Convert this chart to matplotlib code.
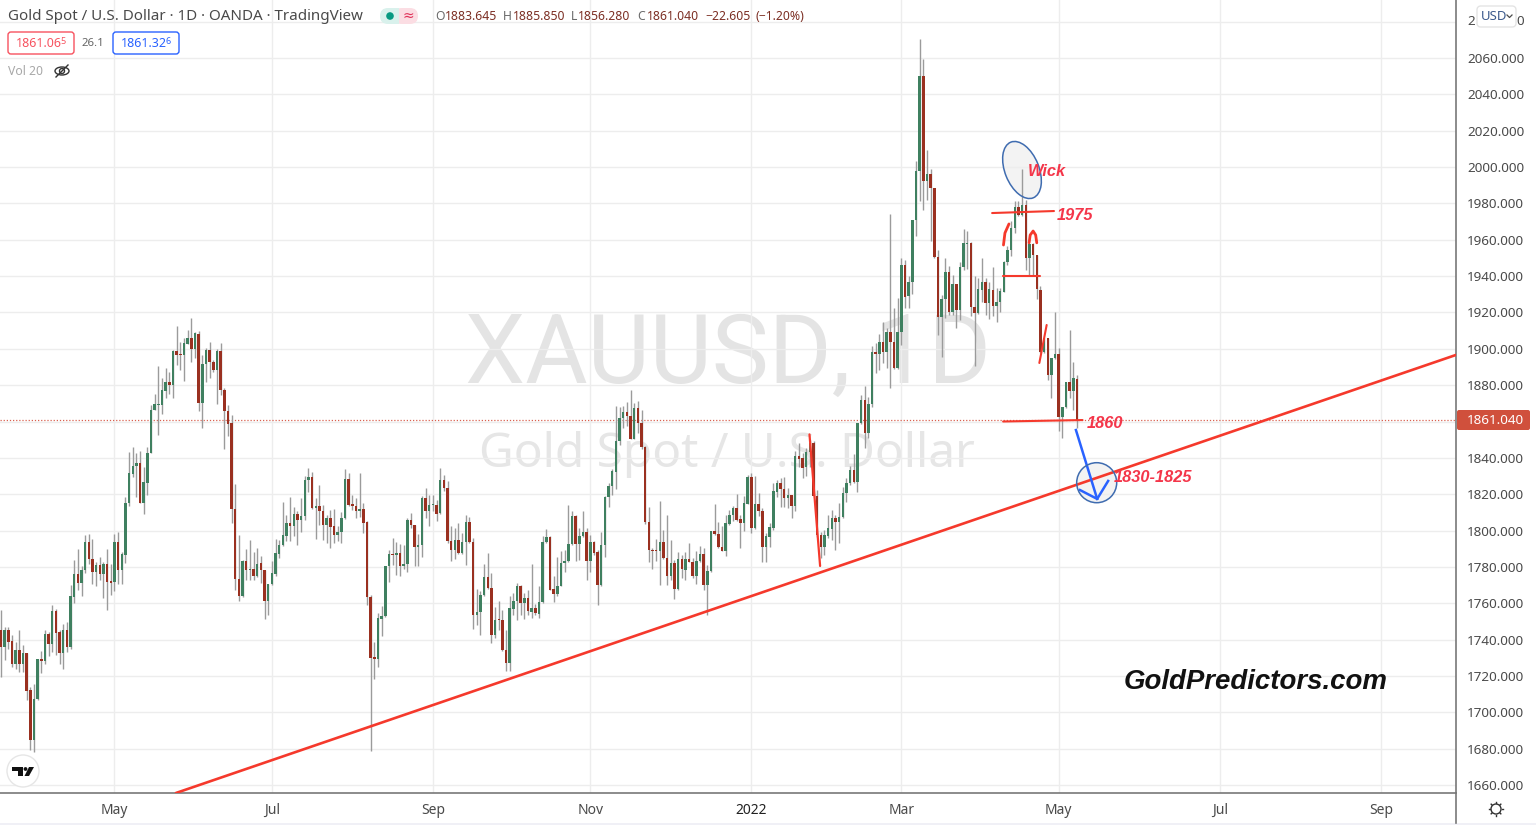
#!/usr/bin/env python3
"""Gold Spot / U.S. Dollar daily candles with hand-drawn levels, TradingView look."""
import matplotlib
matplotlib.use("Agg")
import matplotlib.pyplot as plt
from matplotlib.patches import Circle, Ellipse, FancyBboxPatch, Polygon, Rectangle

W, H = 1536, 825
FONT = "Noto Sans"
plt.rcParams["font.family"] = [FONT, "DejaVu Sans"]

opens = [
    1745.1, 1736.0, 1745.1, 1739.1, 1726.8, 1734.1, 1726.4, 1732.8, 1712.1, 1684.6,
    1707.2, 1729.5, 1728.2, 1743.3, 1737.4, 1755.8, 1744.0, 1732.7, 1745.5, 1736.0,
    1763.5, 1776.3, 1771.2, 1778.2, 1793.6, 1784.6, 1777.2, 1781.3, 1776.0, 1781.8,
    1772.1, 1771.7, 1793.8, 1778.2, 1786.8, 1815.2, 1831.0, 1835.4, 1837.3, 1815.4,
    1826.4, 1842.8, 1866.6, 1869.0, 1869.0, 1876.9, 1881.5, 1880.2, 1898.9, 1896.9,
    1896.5, 1902.9, 1906.2, 1899.8, 1908.1, 1870.3, 1891.6, 1899.3, 1892.8, 1888.6,
    1898.7, 1877.6, 1865.9, 1858.9, 1812.1, 1773.2, 1764.0, 1783.1, 1778.5, 1779.1,
    1774.9, 1782.2, 1778.5, 1761.1, 1770.6, 1776.3, 1787.3, 1791.9, 1797.2, 1804.2,
    1802.4, 1809.0, 1806.0, 1807.9, 1827.7, 1829.5, 1812.3, 1813.4, 1811.0, 1803.3,
    1807.0, 1802.4, 1797.6, 1799.1, 1807.0, 1828.4, 1814.7, 1813.7, 1810.6, 1811.9,
    1804.6, 1763.5, 1730.2, 1729.5, 1751.5, 1752.8, 1780.3, 1787.3, 1786.4, 1787.7,
    1780.3, 1781.6, 1805.8, 1802.9, 1790.8, 1792.3, 1817.8, 1810.6, 1813.9, 1814.1,
    1809.7, 1828.0, 1823.5, 1794.1, 1789.5, 1794.7, 1787.7, 1793.7, 1804.6, 1793.7,
    1753.7, 1755.2, 1764.4, 1774.5, 1768.4, 1742.4, 1751.0, 1750.6, 1734.5, 1727.1,
    1757.0, 1761.1, 1769.7, 1760.2, 1763.1, 1755.2, 1757.4, 1754.3, 1760.5, 1793.6,
    1796.3, 1767.9, 1765.1, 1769.7, 1782.2, 1783.1, 1792.5, 1808.2, 1792.8, 1796.9,
    1799.4, 1783.5, 1793.6, 1788.2, 1769.9, 1791.9, 1818.5, 1824.4, 1832.1, 1849.2,
    1862.0, 1865.3, 1862.9, 1850.4, 1867.7, 1859.2, 1845.8, 1804.7, 1789.5, 1789.0,
    1788.6, 1793.6, 1784.9, 1774.8, 1782.2, 1768.0, 1784.4, 1778.5, 1784.4, 1782.9,
    1775.2, 1783.1, 1787.1, 1770.2, 1777.6, 1800.0, 1798.3, 1790.8, 1789.0, 1803.8,
    1808.8, 1812.6, 1806.4, 1804.2, 1814.8, 1829.3, 1801.4, 1814.8, 1810.8, 1790.8,
    1796.7, 1801.4, 1821.4, 1826.4, 1822.9, 1817.8, 1819.6, 1813.7, 1841.1, 1839.8,
    1834.8, 1843.1, 1848.0, 1819.2, 1797.6, 1791.2, 1797.0, 1800.9, 1807.1, 1804.6,
    1807.7, 1820.5, 1826.0, 1833.4, 1826.6, 1859.1, 1871.9, 1853.5, 1869.5, 1898.1,
    1897.2, 1903.6, 1898.5, 1909.2, 1904.0, 1889.3, 1909.5, 1945.9, 1928.8, 1936.5,
    1970.6, 1997.6, 2050.3, 1992.1, 1996.3, 1988.4, 1950.5, 1917.4, 1927.3, 1942.2,
    1920.5, 1935.8, 1921.1, 1944.9, 1957.8, 1958.2, 1922.9, 1919.6, 1932.5, 1937.0,
    1925.1, 1932.5, 1923.3, 1926.0, 1931.5, 1947.5, 1954.1, 1966.4, 1978.0, 1973.4,
    1978.9, 1949.7, 1957.8, 1951.4, 1932.5, 1898.0, 1905.9, 1885.7, 1894.8, 1897.0,
    1862.7, 1867.9, 1881.5, 1877.0, 1883.645,
]
closes = [
    1736.0, 1745.1, 1738.7, 1726.8, 1734.1, 1726.4, 1732.8, 1711.7, 1684.6, 1707.2,
    1729.5, 1728.2, 1743.3, 1737.4, 1755.8, 1743.7, 1732.7, 1745.5, 1736.0, 1763.8,
    1776.3, 1771.2, 1778.5, 1793.6, 1784.2, 1777.2, 1781.3, 1776.0, 1781.8, 1771.7,
    1771.3, 1793.8, 1778.2, 1787.3, 1815.2, 1831.4, 1835.4, 1837.3, 1815.4, 1826.6,
    1842.9, 1866.6, 1869.4, 1869.4, 1877.3, 1881.5, 1880.2, 1898.9, 1896.5, 1896.5,
    1903.3, 1906.2, 1899.8, 1908.5, 1870.3, 1891.6, 1899.3, 1892.5, 1888.3, 1898.7,
    1877.6, 1865.7, 1858.5, 1811.6, 1773.2, 1763.9, 1783.1, 1778.5, 1779.1, 1774.9,
    1781.8, 1778.1, 1761.1, 1770.8, 1776.7, 1787.7, 1792.3, 1797.6, 1804.2, 1802.4,
    1809.0, 1806.0, 1808.2, 1828.0, 1829.5, 1812.3, 1813.4, 1810.6, 1803.3, 1807.0,
    1802.0, 1797.6, 1799.4, 1807.1, 1828.4, 1814.3, 1813.4, 1810.6, 1812.1, 1804.2,
    1763.3, 1729.9, 1729.5, 1751.7, 1753.2, 1780.3, 1787.3, 1786.4, 1787.7, 1780.3,
    1781.6, 1806.0, 1802.9, 1790.8, 1792.3, 1817.8, 1810.6, 1814.1, 1814.1, 1809.3,
    1828.0, 1823.3, 1794.1, 1789.5, 1794.7, 1787.7, 1793.7, 1804.6, 1793.7, 1753.7,
    1755.2, 1764.4, 1774.5, 1768.4, 1742.4, 1751.0, 1750.6, 1734.1, 1727.1, 1757.4,
    1761.4, 1769.7, 1760.2, 1763.1, 1755.6, 1757.4, 1754.6, 1760.5, 1793.6, 1796.3,
    1767.5, 1765.1, 1769.7, 1782.2, 1783.5, 1792.8, 1808.2, 1792.8, 1797.2, 1799.4,
    1783.5, 1793.6, 1787.7, 1769.9, 1792.3, 1818.5, 1824.4, 1832.5, 1849.5, 1862.0,
    1865.3, 1862.9, 1850.4, 1867.7, 1859.2, 1845.8, 1804.6, 1789.1, 1788.6, 1788.6,
    1793.6, 1784.7, 1774.8, 1782.2, 1768.0, 1784.4, 1778.9, 1784.4, 1782.7, 1775.2,
    1783.5, 1787.1, 1770.2, 1777.8, 1800.0, 1798.3, 1790.8, 1789.0, 1804.2, 1808.8,
    1812.6, 1806.0, 1804.2, 1815.2, 1829.3, 1801.4, 1814.8, 1810.6, 1791.2, 1797.0,
    1801.8, 1821.8, 1826.4, 1822.7, 1817.8, 1819.6, 1813.5, 1841.1, 1839.4, 1834.6,
    1843.1, 1848.0, 1819.2, 1797.6, 1791.2, 1797.6, 1801.3, 1807.1, 1804.6, 1807.7,
    1820.5, 1826.4, 1833.4, 1826.6, 1859.1, 1871.9, 1853.5, 1869.7, 1898.1, 1897.0,
    1903.6, 1898.5, 1909.2, 1904.0, 1889.3, 1909.5, 1945.9, 1928.4, 1936.5, 1971.0,
    1998.0, 2050.3, 1992.1, 1996.3, 1988.4, 1950.3, 1917.4, 1927.3, 1942.2, 1920.5,
    1935.8, 1921.1, 1944.9, 1958.2, 1958.2, 1922.9, 1919.6, 1932.8, 1937.0, 1925.1,
    1932.8, 1923.3, 1926.0, 1931.9, 1947.7, 1954.1, 1966.4, 1978.0, 1973.4, 1978.9,
    1949.7, 1957.8, 1951.4, 1932.8, 1898.0, 1905.9, 1885.7, 1894.8, 1897.0, 1862.7,
    1868.2, 1881.5, 1877.0, 1883.8, 1861.04,
]
highs = [
    1756.1, 1747.0, 1747.0, 1742.4, 1738.7, 1745.5, 1736.9, 1732.8, 1713.9, 1715.4,
    1729.5, 1733.8, 1745.5, 1744.2, 1758.9, 1757.1, 1745.1, 1748.8, 1749.7, 1769.9,
    1784.0, 1790.1, 1780.4, 1797.8, 1798.0, 1795.6, 1782.8, 1785.5, 1782.8, 1790.1,
    1781.8, 1798.3, 1799.3, 1788.3, 1818.5, 1843.3, 1845.7, 1842.4, 1843.9, 1835.0,
    1846.1, 1869.0, 1875.0, 1890.5, 1883.7, 1889.2, 1887.0, 1899.6, 1912.5, 1903.9,
    1905.7, 1910.3, 1916.7, 1909.4, 1909.9, 1896.5, 1900.2, 1903.9, 1893.8, 1899.8,
    1903.0, 1878.2, 1869.0, 1863.5, 1825.5, 1797.4, 1783.7, 1790.1, 1795.0, 1788.3,
    1790.6, 1786.2, 1778.5, 1770.8, 1783.1, 1795.4, 1795.0, 1815.6, 1808.8, 1818.5,
    1813.0, 1810.6, 1817.8, 1829.9, 1834.5, 1832.1, 1818.0, 1825.3, 1814.3, 1808.8,
    1811.2, 1811.9, 1802.4, 1810.1, 1833.6, 1831.7, 1819.8, 1818.0, 1831.7, 1815.2,
    1805.1, 1764.7, 1738.5, 1754.6, 1758.7, 1780.3, 1789.5, 1795.9, 1793.6, 1792.8,
    1792.3, 1807.0, 1809.7, 1803.3, 1798.3, 1818.9, 1823.5, 1819.8, 1819.8, 1817.0,
    1834.5, 1830.8, 1827.1, 1802.4, 1801.4, 1804.2, 1798.7, 1808.8, 1807.5, 1795.9,
    1767.9, 1766.6, 1781.8, 1787.7, 1776.7, 1757.8, 1761.1, 1756.5, 1745.5, 1764.2,
    1765.7, 1771.2, 1770.2, 1765.7, 1767.1, 1781.6, 1759.8, 1769.7, 1796.9, 1800.9,
    1796.9, 1774.8, 1785.5, 1788.6, 1789.1, 1814.1, 1810.6, 1808.8, 1801.4, 1811.0,
    1801.4, 1797.8, 1794.1, 1789.5, 1799.1, 1818.9, 1826.2, 1833.6, 1868.8, 1868.1,
    1868.8, 1870.6, 1877.2, 1870.3, 1871.2, 1866.2, 1846.4, 1813.0, 1790.4, 1795.4,
    1816.1, 1800.2, 1808.8, 1794.7, 1784.0, 1788.0, 1786.8, 1788.0, 1793.2, 1784.9,
    1788.6, 1791.7, 1790.4, 1781.3, 1800.0, 1814.7, 1804.6, 1802.4, 1808.8, 1811.5,
    1813.7, 1820.3, 1808.8, 1818.9, 1830.8, 1831.7, 1829.9, 1820.7, 1812.3, 1798.5,
    1804.0, 1826.0, 1827.9, 1828.8, 1829.7, 1823.3, 1819.6, 1843.5, 1848.0, 1842.5,
    1845.3, 1849.9, 1849.0, 1822.4, 1799.4, 1800.3, 1808.6, 1811.3, 1808.6, 1815.0,
    1824.2, 1828.8, 1835.6, 1842.2, 1859.4, 1874.7, 1879.6, 1873.7, 1901.3, 1903.1,
    1908.0, 1914.5, 1911.4, 1974.3, 1922.4, 1927.9, 1949.9, 1949.0, 1939.8, 1971.0,
    2003.1, 2070.5, 2059.5, 2009.5, 1998.9, 1988.4, 1954.5, 1929.7, 1949.9, 1945.3,
    1940.7, 1935.8, 1947.7, 1965.9, 1964.6, 1958.5, 1939.8, 1938.9, 1949.9, 1938.9,
    1937.0, 1944.9, 1933.4, 1933.4, 1948.1, 1956.3, 1970.1, 1981.1, 1981.1, 1998.9,
    1982.0, 1958.2, 1958.2, 1951.7, 1934.7, 1905.9, 1905.9, 1894.8, 1920.0, 1900.4,
    1868.2, 1882.0, 1910.1, 1892.5, 1885.85,
]
lows = [
    1719.4, 1728.6, 1735.0, 1725.0, 1724.0, 1722.2, 1722.2, 1706.6, 1679.1, 1678.2,
    1706.6, 1721.6, 1726.8, 1730.8, 1733.2, 1731.4, 1726.8, 1724.0, 1733.2, 1735.0,
    1760.2, 1767.2, 1763.9, 1776.7, 1781.8, 1770.8, 1769.4, 1772.7, 1763.1, 1756.5,
    1764.4, 1766.6, 1770.8, 1770.8, 1782.2, 1813.4, 1829.5, 1818.2, 1814.9, 1809.0,
    1819.8, 1842.4, 1866.2, 1852.5, 1864.0, 1872.7, 1875.4, 1872.7, 1891.0, 1888.6,
    1882.4, 1902.4, 1892.5, 1894.7, 1865.9, 1856.5, 1881.8, 1883.7, 1887.3, 1869.9,
    1874.5, 1845.1, 1851.9, 1804.2, 1767.2, 1761.3, 1763.5, 1773.0, 1773.0, 1773.0,
    1774.5, 1771.2, 1751.3, 1753.7, 1770.2, 1774.8, 1784.9, 1791.7, 1794.5, 1794.5,
    1796.9, 1791.9, 1799.1, 1806.0, 1821.1, 1811.9, 1795.6, 1803.3, 1795.0, 1793.2,
    1790.2, 1793.2, 1794.5, 1793.2, 1806.4, 1813.7, 1811.2, 1807.0, 1807.5, 1798.7,
    1759.2, 1678.5, 1718.5, 1724.7, 1742.2, 1752.4, 1771.5, 1781.3, 1775.8, 1774.8,
    1778.9, 1777.0, 1801.4, 1780.3, 1780.3, 1785.5, 1807.0, 1802.4, 1810.6, 1805.1,
    1809.3, 1821.6, 1793.2, 1783.1, 1784.6, 1787.3, 1787.3, 1781.1, 1793.2, 1745.8,
    1747.9, 1742.7, 1763.8, 1767.9, 1738.1, 1740.9, 1745.1, 1733.6, 1722.9, 1722.5,
    1753.7, 1751.0, 1753.7, 1751.3, 1753.7, 1751.9, 1753.7, 1751.9, 1760.2, 1793.2,
    1767.1, 1760.5, 1763.8, 1769.3, 1777.0, 1782.7, 1792.1, 1783.1, 1784.0, 1796.5,
    1772.6, 1777.0, 1786.8, 1759.2, 1769.5, 1785.3, 1812.8, 1819.8, 1822.9, 1846.8,
    1856.5, 1857.4, 1850.1, 1850.1, 1853.7, 1845.1, 1803.8, 1782.5, 1779.1, 1783.1,
    1770.2, 1784.4, 1770.2, 1773.0, 1762.5, 1767.1, 1773.9, 1772.6, 1782.5, 1773.9,
    1770.8, 1782.7, 1767.5, 1753.7, 1777.0, 1797.8, 1790.4, 1788.6, 1785.9, 1803.3,
    1805.1, 1805.1, 1790.4, 1799.6, 1814.5, 1798.7, 1800.9, 1808.2, 1782.9, 1782.9,
    1791.2, 1800.3, 1818.7, 1813.2, 1813.2, 1812.3, 1806.8, 1811.0, 1835.2, 1828.8,
    1830.1, 1835.2, 1818.7, 1796.7, 1784.7, 1786.6, 1795.7, 1794.8, 1789.3, 1793.0,
    1806.8, 1815.9, 1825.1, 1826.0, 1821.4, 1858.7, 1845.3, 1850.8, 1868.2, 1886.9,
    1888.4, 1892.1, 1889.7, 1878.7, 1889.0, 1889.0, 1902.2, 1922.4, 1922.4, 1930.1,
    1961.8, 1981.1, 1976.5, 1982.0, 1959.1, 1949.9, 1907.7, 1895.4, 1916.9, 1918.7,
    1918.7, 1911.4, 1916.0, 1943.5, 1943.8, 1918.2, 1890.6, 1919.3, 1926.0, 1918.7,
    1916.3, 1918.2, 1915.0, 1920.5, 1931.2, 1946.2, 1950.8, 1963.7, 1973.2, 1972.8,
    1943.5, 1940.7, 1940.7, 1927.3, 1897.6, 1897.6, 1882.9, 1872.8, 1894.5, 1854.5,
    1850.8, 1867.3, 1872.8, 1866.4, 1856.28,
]

month_pos = [31, 74, 118, 161, 205, 246, 289, 333, 377]
month_labels = ["May", "Jul", "Sep", "Nov", "2022", "Mar", "May", "Jul", "Sep"]
price_ticks = list(range(1660, 2081, 20))
hidden_ticks = (1860, 2080)  # covered by the price tag and the USD chip
last_price = 1861.04

# drawn levels, in bar index / price
trend_x, trend_y = [47.8, 397.5], [1655.6, 1896.6]
level_1975_x, level_1975_y = [270.8, 287.7], [1974.7, 1975.8]
level_1940_x, level_1940_y = [273.8, 283.9], [1940.1, 1940.1]
level_1860_x, level_1860_y = [273.8, 295.5], [1860.0, 1860.8]
arc_l_x, arc_l_y = [273.9, 274.3, 275.4], [1957.1, 1963.7, 1968.7]
arc_r_x = [280.9, 281.2, 282.0, 282.7, 283.0]
arc_r_y = [1958.3, 1962.6, 1964.8, 1962.6, 1958.3]
slash_x, slash_y = [285.7, 283.7], [1913.1, 1892.2]
drop_x, drop_y = [220.9, 223.8], [1852.9, 1780.5]
arrow_x, arrow_y = [293.7, 299.5], [1855.3, 1817.4]
head_x, head_y = [294.8, 299.5, 302.5], [1822.3, 1817.4, 1827.3]

BAR_PX, AX_W, AX_H = 3.66, 1456, 793
RED, BLUE = "#f4364a", "#2962ff"
LINE_RED = "#f5392c"
GRID, AXIS = "#ededed", "#787878"
INK, GREY = "#4a4a4a", "#9b9b9b"

fig = plt.figure(figsize=(W / 100, H / 100), dpi=100, facecolor="white")
ax = fig.add_axes([0, (H - AX_H) / H, AX_W / W, AX_H / H])
ax.set_facecolor("none")
ax.set_xlim(-1 / BAR_PX, (AX_W - 1) / BAR_PX)
ax.set_ylim(2060 - 735 / 1.8175, 2060 + 58 / 1.8175)
ax.set_axisbelow(True)
ax.grid(color=GRID, lw=1)
ax.set_xticks(month_pos)
ax.set_xticklabels(month_labels, fontsize=10, color=INK)
ax.get_xticklabels()[4].set_fontweight("bold")
ax.get_xticklabels()[4].set_color("#222222")
ax.yaxis.tick_right()
ax.set_yticks(price_ticks)
ax.set_yticklabels(["" if p in hidden_ticks else f"{p:.3f}" for p in price_ticks],
                   fontsize=9.7, color=INK)
ax.tick_params(axis="x", length=0, pad=7)
ax.tick_params(axis="y", length=0, pad=8)
for side in ("top", "left"):
    ax.spines[side].set_visible(False)
for side in ("right", "bottom"):
    ax.spines[side].set_color(AXIS)
    ax.spines[side].set_linewidth(1.2)

# pixel-space layers for the UI, one above and one below the chart
px = fig.add_axes([0, 0, 1, 1], facecolor="none")
back = fig.add_axes([0, 0, 1, 1], facecolor="none")
for layer in (px, back):
    layer.set_xlim(0, W)
    layer.set_ylim(H, 0)
    layer.axis("off")
px.set_zorder(ax.get_zorder() + 1)
back.set_zorder(ax.get_zorder() - 1)

# watermark
back.text(728, 357, "XAUUSD, 1D", fontsize=69, color="#e4e4e4", ha="center", va="center",
          family="Roboto")
back.text(727, 454, "Gold Spot / U.S. Dollar", fontsize=34.4, color="#e6e6e6",
          ha="center", va="center")

# candles
idx = list(range(len(opens)))
ax.vlines(idx, lows, highs, color=GREY, lw=1, zorder=3)
for i, o, c in zip(idx, opens, closes):
    col = "#3f8060" if c >= o else "#9a3020"
    ax.bar(i, max(abs(c - o), 0.6), bottom=min(o, c), width=0.68, color=col, lw=0, zorder=4)

# last price
ax.axhline(last_price, color="#d9604f", lw=0.9, ls=(0, (1, 1.5)), zorder=2)

# drawings
for xs, ys, lw in [(trend_x, trend_y, 1.9), (level_1975_x, level_1975_y, 1.5),
                   (level_1940_x, level_1940_y, 1.5), (level_1860_x, level_1860_y, 1.5),
                   (arc_l_x, arc_l_y, 2), (arc_r_x, arc_r_y, 2),
                   (slash_x, slash_y, 1.5), (drop_x, drop_y, 1.6)]:
    ax.plot(xs, ys, color=LINE_RED, lw=lw, zorder=6, solid_capstyle="round")
ax.plot(arrow_x, arrow_y, color=BLUE, lw=1.8, zorder=7)
ax.plot(head_x, head_y, color=BLUE, lw=1.8, zorder=7)

# ellipse and circle: fill under the candles, outline above
back.add_patch(Ellipse((1022, 170), 34, 60, angle=-22, fc="#f3f3f3", ec="none"))
px.add_patch(Ellipse((1022, 170), 34, 60, angle=-22, fc="none", ec="#3f6cb0", lw=1.1))
back.add_patch(Circle((1096.7, 482.7), 20, fc="#f3f3f3", ec="none"))
px.add_patch(Circle((1096.7, 482.7), 20, fc="none", ec="#3f6cb0", lw=1.1))

hand = dict(color=RED, fontsize=11.8, fontweight="bold", style="italic", va="center",
            family="Liberation Sans")
px.text(1028, 171, "Wick", **hand)
px.text(1057, 215, "1975", **hand)
px.text(1087, 423, "1860", **hand)
px.text(1114, 478, "1830-1825", **hand)
px.text(1124, 682, "GoldPredictors.com", color="#111111", fontsize=19.9, fontweight="bold",
        style="italic", va="center", family="Liberation Sans")

# header
px.text(8, 16, "Gold Spot / U.S. Dollar · 1D · OANDA · TradingView", fontsize=10.9,
        color=INK, va="center")
px.add_patch(FancyBboxPatch((380, 8), 24, 16, boxstyle="round,pad=0,rounding_size=8",
                            fc="#d9f1ec", ec="none"))
px.add_patch(FancyBboxPatch((394, 8), 24, 16, boxstyle="round,pad=0,rounding_size=8",
                            fc="#fbdde3", ec="none"))
px.add_patch(Rectangle((390, 8), 9, 16, fc="#d9f1ec", ec="none"))
px.add_patch(Circle((390, 16), 3.8, fc="#089981", ec="none"))
px.text(408, 15.5, "≈", fontsize=10, color="#e0335a", ha="center", va="center",
        family="DejaVu Sans")
for x0, letter, val in [(435, "O", "1883.645"), (503, "H", "1885.850"),
                        (571, "L", "1856.280"), (637, "C", "1861.040")]:
    px.text(x0, 16, letter, fontsize=8.8, color="#6a6a6a", va="center")
    px.text(x0 + (10 if letter != "L" else 7), 16, val, fontsize=8.8, color="#7c2f24",
            va="center")
px.text(705, 16, "−22.605", fontsize=8.8, color="#7c2f24", va="center")
px.text(755, 16, "(−1.20%)", fontsize=8.8, color="#7c2f24", va="center")

for x0, w, col, txt, sup in [(8, 66, "#f7525f", "1861.06", "5"), (113, 66, BLUE, "1861.32", "6")]:
    px.add_patch(FancyBboxPatch((x0, 32), w, 22, boxstyle="round,pad=0,rounding_size=3",
                                fc="white", ec=col, lw=1))
    px.text(x0 + 8, 43.5, txt, fontsize=9, color=col, va="center")
    px.text(x0 + w - 8, 41, sup, fontsize=6.5, color=col, va="center", ha="right")
px.text(93, 43.5, "26.1", fontsize=8.2, color="#666666", ha="center", va="center")
px.text(8, 71.5, "Vol 20", fontsize=8.8, color="#a8a8a8", va="center")
px.add_patch(Ellipse((62, 71), 14, 8, fc="none", ec="#333333", lw=1))
px.add_patch(Circle((62, 71), 2.5, fc="none", ec="#333333", lw=1))
px.plot([56, 68], [77, 65], color="#333333", lw=1)

# top tick peeks out on both sides of the USD chip
px.text(1467, 21.5, "2", fontsize=9.7, color=INK, va="center")
px.text(1524, 21.5, "0", fontsize=9.7, color=INK, va="center", ha="right")
px.add_patch(FancyBboxPatch((1477, 6), 39, 21, boxstyle="round,pad=0,rounding_size=4",
                            fc="white", ec="#e4e4e4", lw=1))
px.text(1481, 16, "USD", fontsize=9.5, color="#3c5a8c", va="center")
px.plot([1507, 1509.5, 1512], [15, 17.5, 15], color=INK, lw=0.9)

# price tag
px.add_patch(FancyBboxPatch((1457, 410), 73, 20, boxstyle="round,pad=0,rounding_size=2",
                            fc="#d0503c", ec="none"))
px.text(1495, 420, "1861.040", fontsize=9.7, color="white", ha="center", va="center")

# TradingView badge
px.add_patch(Circle((23, 771), 16, fc="white", ec="#e6e6e6", lw=1))
px.add_patch(Polygon([(12, 767), (23, 767), (23, 776), (18, 776), (18, 771), (12, 771)],
                     fc="#111111", ec="none"))
px.add_patch(Circle((25.5, 769), 1.9, fc="#111111", ec="none"))
px.add_patch(Polygon([(29, 767), (34, 767), (29, 776), (24.5, 776)], fc="#111111", ec="none"))

# settings glyph and bottom strip
px.add_patch(Circle((1496, 809), 5, fc="none", ec="#333333", lw=1))
for dx, dy in [(0, -6.5), (0, 6.5), (-6.5, 0), (6.5, 0), (-4.6, -4.6), (4.6, -4.6),
               (-4.6, 4.6), (4.6, 4.6)]:
    px.plot([1496 + dx * 0.9, 1496 + dx * 1.05], [809 + dy * 0.9, 809 + dy * 1.05],
            color="#333333", lw=1)
px.plot([AX_W, AX_W], [AX_H, 823], color=AXIS, lw=1.2)
px.add_patch(Rectangle((0, 823), W, 2, fc="#f0f0f6", ec="none"))

fig.savefig("out.png", dpi=100, facecolor="white")
